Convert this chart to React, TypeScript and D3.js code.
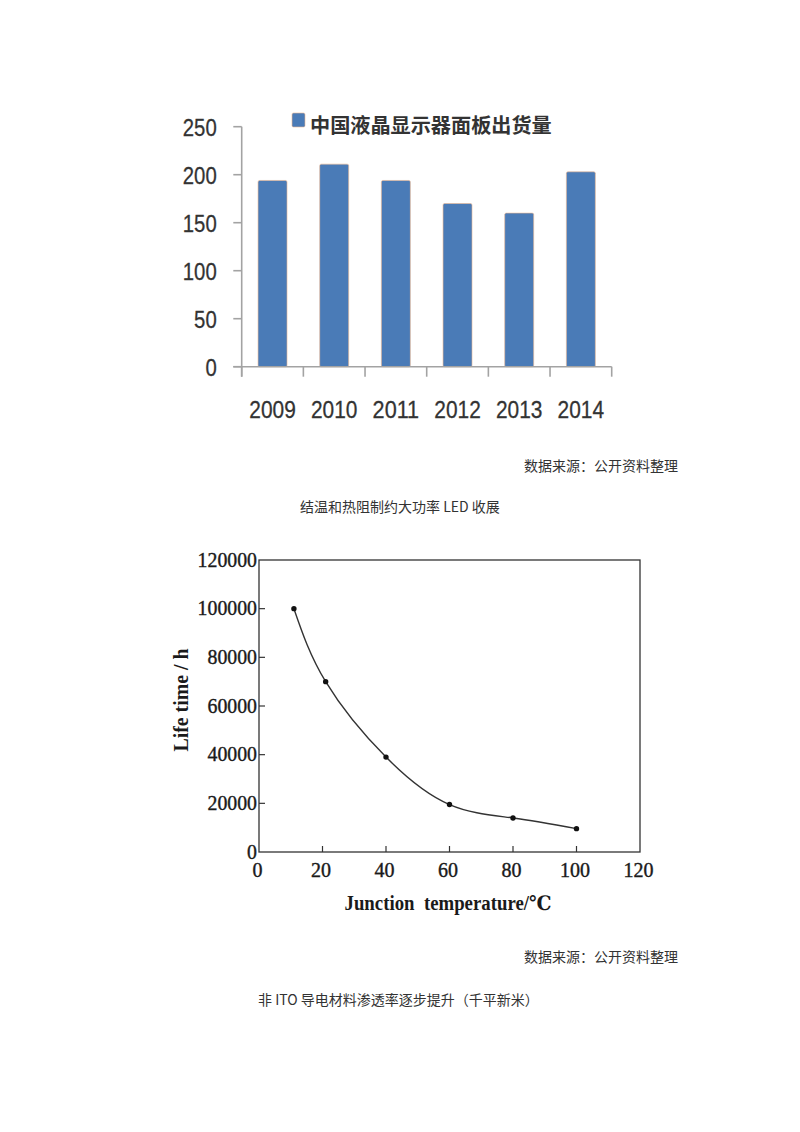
import React, { useEffect, useRef } from 'react'
import * as d3 from 'd3'

// bar chart: LCD panel shipments
const years = ['2009', '2010', '2011', '2012', '2013', '2014']
const shipments = [194, 211, 194, 170, 160, 203]
const barTicks = [0, 50, 100, 150, 200, 250]
const legendLabel = '中国液晶显示器面板出货量'

// line chart: life time vs junction temperature
const junctionTemp = [11, 21, 40, 60, 80, 100]
const lifeTime = [100000, 70000, 39000, 19500, 14000, 9600]
const tempTicks = [0, 20, 40, 60, 80, 100, 120]
const lifeTicks = [0, 20000, 40000, 60000, 80000, 100000, 120000]

const sourceNote = '数据来源：公开资料整理'
const caption1 = '结温和热阻制约大功率 LED 收展'
const caption2 = '非 ITO 导电材料渗透率逐步提升（千平新米）'

const BAR_BLUE = '#4a7bb7'
const AXIS_GRAY = '#a3a3a3'
const CJK = '"Noto Sans CJK SC", "Noto Sans", sans-serif'
const SERIF = '"Liberation Serif", "DejaVu Serif", serif'

function drawBarChart(svg) {
  const yScale = d3.scaleLinear().domain([0, 250]).range([366.7, 126.7])
  const xScale = d3.scaleBand()
    .domain(years)
    .range([241.7, 611.7])
    .paddingInner(0.53)
    .paddingOuter(0.265)

  const g = svg.append('g')
  const y0 = yScale(0)

  // bars
  g.selectAll('rect.bar')
    .data(shipments)
    .join('rect')
    .attr('class', 'bar')
    .attr('x', (d, i) => xScale(years[i]))
    .attr('y', d => yScale(d))
    .attr('width', xScale.bandwidth())
    .attr('height', d => y0 - yScale(d))
    .attr('rx', 1.5)
    .attr('fill', BAR_BLUE)
    .attr('stroke', '#efb892')
    .attr('stroke-width', 0.6)

  // axes
  const axes = g.append('g').attr('stroke', AXIS_GRAY).attr('stroke-width', 1.6)
  axes.append('line')
    .attr('x1', 241.7).attr('x2', 241.7)
    .attr('y1', yScale(250)).attr('y2', y0 + 10)
  axes.selectAll('line.ytick')
    .data(barTicks)
    .join('line')
    .attr('class', 'ytick')
    .attr('x1', 233.3).attr('x2', 241.7)
    .attr('y1', d => yScale(d)).attr('y2', d => yScale(d))
  axes.append('line')
    .attr('x1', 233.3).attr('x2', xScale.range()[1])
    .attr('y1', y0).attr('y2', y0)
  axes.selectAll('line.xtick')
    .data(d3.range(years.length + 1))
    .join('line')
    .attr('class', 'xtick')
    .attr('x1', i => xScale.range()[0] + i * xScale.step())
    .attr('x2', i => xScale.range()[0] + i * xScale.step())
    .attr('y1', y0).attr('y2', y0 + 10)

  // tick labels
  g.selectAll('text.ylab')
    .data(barTicks)
    .join('text')
    .attr('class', 'ylab')
    .attr('x', 216.7)
    .attr('y', d => yScale(d) + 8.8)
    .attr('text-anchor', 'end')
    .attr('textLength', d => String(d).length * 11.3)
    .attr('lengthAdjust', 'spacingAndGlyphs')
    .style('font-family', '"Liberation Sans", Arial, sans-serif')
    .style('font-size', '24.5px')
    .attr('fill', '#333')
    .attr('stroke', '#333').attr('stroke-width', 0.3)
    .text(d => d)

  g.selectAll('text.xlab')
    .data(years)
    .join('text')
    .attr('class', 'xlab')
    .attr('x', d => xScale(d) + xScale.bandwidth() / 2)
    .attr('y', 418.3)
    .attr('text-anchor', 'middle')
    .attr('textLength', 46.5)
    .attr('lengthAdjust', 'spacingAndGlyphs')
    .style('font-family', '"Liberation Sans", Arial, sans-serif')
    .style('font-size', '24.5px')
    .attr('fill', '#333')
    .attr('stroke', '#333').attr('stroke-width', 0.3)
    .text(d => d)

  // legend
  g.append('rect')
    .attr('x', 292).attr('y', 113)
    .attr('width', 13).attr('height', 14)
    .attr('rx', 1.5)
    .attr('fill', BAR_BLUE)
    .attr('stroke', '#efb892').attr('stroke-width', 0.6)
  g.append('text')
    .attr('x', 310).attr('y', 132.5)
    .attr('textLength', 241.7)
    .attr('lengthAdjust', 'spacingAndGlyphs')
    .style('font-family', CJK)
    .style('font-size', '20px')
    .style('font-weight', 700)
    .attr('fill', '#333')
    .text(legendLabel)
}

function drawLineChart(svg) {
  const xScale = d3.scaleLinear().domain([0, 120]).range([259, 640])
  const yScale = d3.scaleLinear().domain([0, 120000]).range([852, 560])
  const g = svg.append('g')

  // frame
  g.append('rect')
    .attr('x', xScale(0)).attr('y', yScale(120000))
    .attr('width', xScale(120) - xScale(0))
    .attr('height', yScale(0) - yScale(120000))
    .attr('fill', 'none')
    .attr('stroke', '#333')
    .attr('stroke-width', 1.3)

  // inward ticks
  g.selectAll('line.xt')
    .data(tempTicks.slice(1, -1))
    .join('line')
    .attr('class', 'xt')
    .attr('x1', d => xScale(d)).attr('x2', d => xScale(d))
    .attr('y1', yScale(0)).attr('y2', yScale(0) - 6)
    .attr('stroke', '#333').attr('stroke-width', 1.2)
  g.selectAll('line.yt')
    .data(lifeTicks.slice(1, -1))
    .join('line')
    .attr('class', 'yt')
    .attr('x1', xScale(0)).attr('x2', xScale(0) + 6)
    .attr('y1', d => yScale(d)).attr('y2', d => yScale(d))
    .attr('stroke', '#333').attr('stroke-width', 1.2)

  // tick labels
  g.selectAll('text.xl')
    .data(tempTicks)
    .join('text')
    .attr('class', 'xl')
    .attr('x', d => xScale(d) - 1.5)
    .attr('y', 877)
    .attr('text-anchor', 'middle')
    .attr('textLength', d => String(d).length * 10)
    .attr('lengthAdjust', 'spacingAndGlyphs')
    .style('font-family', SERIF)
    .style('font-size', '21px')
    .attr('fill', '#1a1a1a')
    .attr('stroke', '#1a1a1a').attr('stroke-width', 0.4)
    .text(d => d)

  g.selectAll('text.yl')
    .data(lifeTicks)
    .join('text')
    .attr('class', 'yl')
    .attr('x', 257)
    .attr('y', d => yScale(d) + 6.5)
    .attr('text-anchor', 'end')
    .attr('textLength', d => String(d).length * 9.9)
    .attr('lengthAdjust', 'spacingAndGlyphs')
    .style('font-family', SERIF)
    .style('font-size', '21px')
    .attr('fill', '#1a1a1a')
    .attr('stroke', '#1a1a1a').attr('stroke-width', 0.4)
    .text(d => d)

  // curve + points
  const pts = junctionTemp.map((t, i) => [t, lifeTime[i]])
  const line = d3.line()
    .x(d => xScale(d[0]))
    .y(d => yScale(d[1]))
    .curve(d3.curveNatural)
  g.append('path')
    .attr('d', line(pts))
    .attr('fill', 'none')
    .attr('stroke', '#333')
    .attr('stroke-width', 1.4)
  g.selectAll('circle')
    .data(pts)
    .join('circle')
    .attr('cx', d => xScale(d[0]))
    .attr('cy', d => yScale(d[1]))
    .attr('r', 2.7)
    .attr('fill', '#111')

  // axis titles
  g.append('text')
    .attr('transform', 'translate(188, 700) rotate(-90)')
    .attr('text-anchor', 'middle')
    .attr('textLength', 103)
    .attr('lengthAdjust', 'spacingAndGlyphs')
    .style('font-family', SERIF)
    .style('font-size', '20px')
    .style('font-weight', 700)
    .style('white-space', 'pre')
    .attr('fill', '#1a1a1a')
    .text('Life time / h')

  g.append('text')
    .attr('x', 448).attr('y', 910)
    .attr('text-anchor', 'middle')
    .attr('textLength', 207)
    .attr('lengthAdjust', 'spacingAndGlyphs')
    .style('font-family', SERIF)
    .style('font-size', '20px')
    .style('font-weight', 700)
    .style('white-space', 'pre')
    .attr('fill', '#1a1a1a')
    .text('Junction  temperature/℃')
}

const App = () => {
  const d3Ref = useRef(null)

  useEffect(() => {
    const svg = d3.select(d3Ref.current)
    svg.selectAll('g').remove()
    drawBarChart(svg)
    drawLineChart(svg)
  }, [])

  const noteStyle = { fontFamily: CJK, fontSize: '14px', fill: '#333' }

  return (
    <svg
      ref={d3Ref}
      width={800}
      height={1132}
      style={{ position: 'absolute', left: 0, top: 0, background: '#fff' }}
    >
      <text x={678} y={471} textAnchor="end" style={noteStyle}>{sourceNote}</text>
      <text x={400} y={512} textAnchor="middle" style={noteStyle}>{caption1}</text>
      <text x={678} y={962} textAnchor="end" style={noteStyle}>{sourceNote}</text>
      <text x={258} y={1005} style={noteStyle}>{caption2}</text>
    </svg>
  )
}

export default App
